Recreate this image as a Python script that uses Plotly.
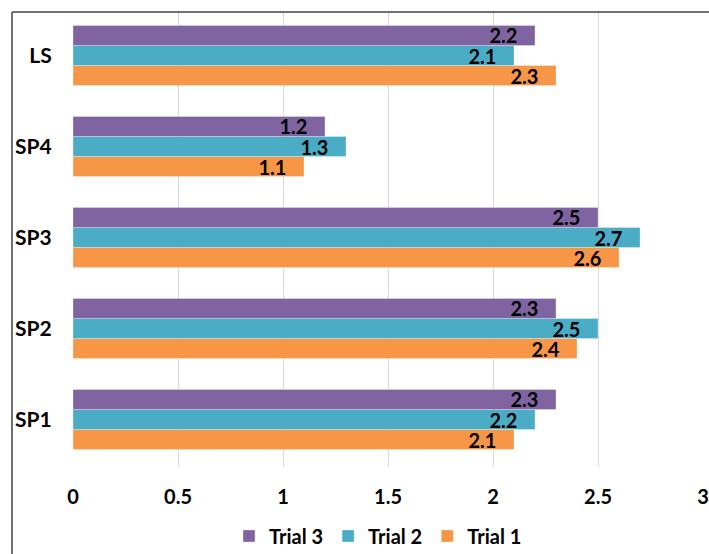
import plotly.graph_objects as go

categories = ["SP1", "SP2", "SP3", "SP4", "LS"]
trial1 = [2.1, 2.4, 2.6, 1.1, 2.3]
trial2 = [2.2, 2.5, 2.7, 1.3, 2.1]
trial3 = [2.3, 2.3, 2.5, 1.2, 2.2]
x_ticks = [0, 0.5, 1, 1.5, 2, 2.5, 3]

series = [
    ("Trial 1", trial1, "#F79646"),
    ("Trial 2", trial2, "#4BACC6"),
    ("Trial 3", trial3, "#8064A2"),
]

FONT = "Lato"
PAD = "\u00a0\u00a0\u00a0"  # keeps value labels a little in from the bar end

fig = go.Figure()
for name, vals, color in series:
    fig.add_trace(go.Bar(
        y=categories, x=vals, name=name, orientation="h",
        marker=dict(color=color, line=dict(color="rgba(255,255,255,0.6)", width=0.5)),
        text=[f"{v:g}{PAD}" for v in vals],
        textposition="inside", insidetextanchor="end",
        constraintext="none",
        textfont=dict(family=FONT, size=20, color="black", weight="bold"),
        cliponaxis=False,
    ))

W, H = 709, 554
L, R, T, B = 73, 6, 12, 87
pw, ph = W - L - R, H - T - B

fig.update_layout(
    width=W, height=H,
    margin=dict(l=L, r=R, t=T, b=B, autoexpand=False),
    barmode="group", bargap=0.34, bargroupgap=0,
    plot_bgcolor="white", paper_bgcolor="white",
    font=dict(family=FONT, size=20, color="black", weight="bold"),
    xaxis=dict(range=[0, 3], tickvals=x_ticks, ticktext=[f"{t:g}" for t in x_ticks],
               showgrid=True, gridcolor="#D9D9D9", gridwidth=1.3,
               zeroline=False, showline=False, automargin=False,
               ticks="outside", ticklen=12, tickcolor="rgba(0,0,0,0)",
               tickfont=dict(family=FONT, size=20, color="black", weight="bold")),
    yaxis=dict(categoryorder="array", categoryarray=categories,
               range=[-0.522, 4.478], automargin=False,
               showgrid=False, zeroline=False, showline=False,
               ticks="outside", ticklen=16, tickcolor="rgba(0,0,0,0)",
               tickfont=dict(family=FONT, size=21, color="black", weight="bold")),
    legend=dict(orientation="h", traceorder="reversed",
                x=(378 - L) / pw, xanchor="center",
                y=-(536 - (T + ph)) / ph, yanchor="middle",
                font=dict(family=FONT, size=20, color="black", weight="bold"),
                itemwidth=30),
    shapes=[
        dict(type="line", xref="paper", yref="paper",
             x0=(12 - L) / pw, x1=(12 - L) / pw, y0=-B / ph - 0.01, y1=1,
             line=dict(color="#404040", width=1.5)),
        dict(type="line", xref="paper", yref="paper",
             x0=(12 - L) / pw, x1=1.05, y0=1, y1=1,
             line=dict(color="#404040", width=1.5)),
    ],
)

fig.write_html("out.html")
